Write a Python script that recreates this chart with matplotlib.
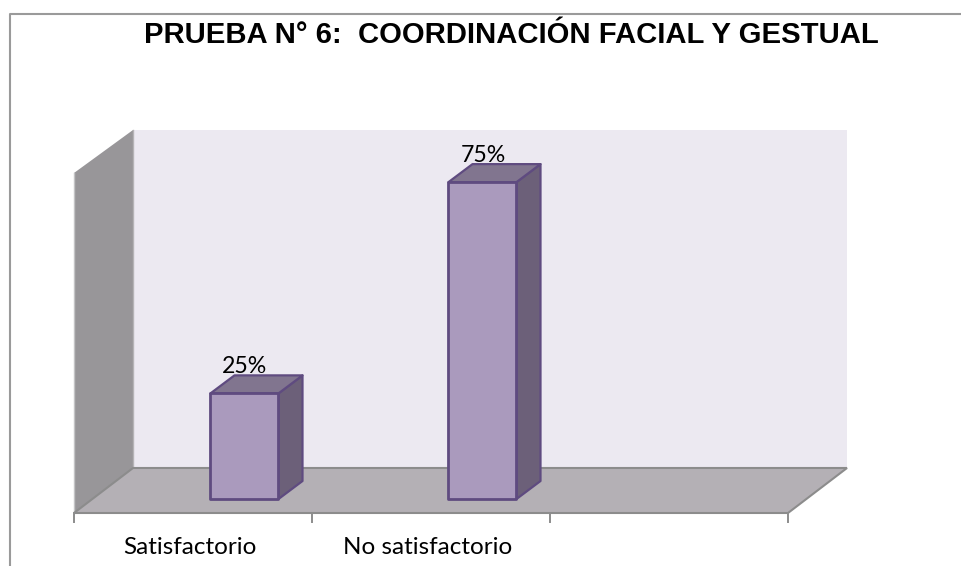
import matplotlib
matplotlib.use("Agg")
import matplotlib.pyplot as plt
from matplotlib.patches import Polygon

categories = ["Satisfactorio", "No satisfactorio", ""]
values = [25, 75]
value_labels = ["25%", "75%"]
title = "PRUEBA N° 6:  COORDINACIÓN FACIAL Y GESTUAL"
y_max = 80

W, H = 962, 566
fig = plt.figure(figsize=(W / 100, H / 100), dpi=100)

def rect(x0, y_top, x1, y_bot):
    return [x0 / W, 1 - y_bot / H, (x1 - x0) / W, (y_bot - y_top) / H]

ax = fig.add_axes(rect(74, 175, 788, 513))
ax.set_xlim(0, len(categories))
ax.set_ylim(0, y_max)
ax.axis("off")

ppx = len(categories) / 714
ppy = y_max / 338
DX, DY = 59 * ppx, 45 * ppy          # floor depth
BX, BY = 24 * ppx, 18 * ppy          # bar depth
OX, OY = 17.5 * ppx, 14 * ppy        # bar front offset from the front plane
BW = 68 * ppx
n = len(categories)

def poly(pts, **kw):
    p = Polygon(pts, closed=True, clip_on=False, **kw)
    ax.add_patch(p)

# walls and floor
poly([(DX, DY), (n + DX, DY), (n + DX, y_max + DY), (DX, y_max + DY)],
     facecolor="#ECE9F1", edgecolor="none", zorder=1)
poly([(0, 0), (DX, DY), (DX, y_max + DY), (0, y_max + 2 * ppy)],
     facecolor="#989699", edgecolor="none", zorder=2)
ax.plot([DX, DX], [DY, y_max + DY], color="#B5B3B6", lw=1.0, clip_on=False, zorder=2)
ax.plot([0, 0], [0, y_max + 2 * ppy], color="#C4C4C6", lw=1.0, clip_on=False, zorder=2)
poly([(0, 0), (n, 0), (n + DX, DY), (DX, DY)],
     facecolor="#B4B0B5", edgecolor="#8C8C8C", linewidth=1.5, zorder=2)

# ticks
for i in range(n + 1):
    ax.plot([i, i], [0, -9 * ppy], color="#8C8C8C", lw=1.4, clip_on=False, zorder=2)

# bars
edge = "#5F4B80"
for i, (v, lab) in enumerate(zip(values, value_labels)):
    c = i + 0.5
    x0 = c - BW / 2 + 34 * ppx + OX
    x1 = x0 + BW
    y0 = OY
    y1 = OY + v
    poly([(x1, y0), (x1 + BX, y0 + BY), (x1 + BX, y1 + BY), (x1, y1)],
         facecolor="#6C6079", edgecolor=edge, linewidth=1.6, joinstyle="round", zorder=3)
    poly([(x0, y1), (x1, y1), (x1 + BX, y1 + BY), (x0 + BX, y1 + BY)],
         facecolor="#81758F", edgecolor=edge, linewidth=1.6, joinstyle="round", zorder=3)
    poly([(x0, y0), (x1, y0), (x1, y1), (x0, y1)],
         facecolor="#AA9ABD", edgecolor=edge, linewidth=2.0, joinstyle="round", zorder=4)
    ax.text(x0 + 34.5 * ppx, y1 + 27 * ppy, lab, ha="center", va="center",
            family="Lato", fontsize=16.7, color="black", zorder=5)

# category labels
label_x = [190, 428]
for lx, lab in zip(label_x, categories):
    fig.text(lx / W, 1 - 547 / H, lab, ha="center", va="center",
             family="Lato", fontsize=17.5, color="black")

fig.text(511 / W, 1 - 35 / H, title, ha="center", va="center",
         family="Liberation Sans", fontweight="bold", fontsize=21.1, color="black")

# chart frame: open on the right and at the bottom
frame = fig.add_axes([0, 0, 1, 1], zorder=-1)
frame.set_xlim(0, W)
frame.set_ylim(H, 0)
frame.axis("off")
frame.plot([10, 10, 962], [566, 14, 14], color="#9A9A9A", lw=1.5)

fig.savefig("out.png", dpi=100)
